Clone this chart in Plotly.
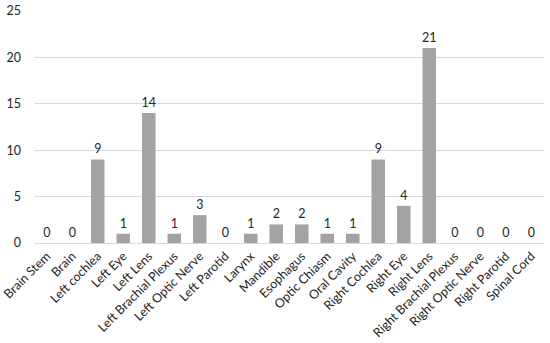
import plotly.graph_objects as go

categories = ["Brain Stem", "Brain", "Left cochlea", "Left Eye", "Left Lens",
              "Left Brachial Plexus", "Left Optic Nerve", "Left Parotid", "Larynx",
              "Mandible", "Esophagus", "Optic Chiasm", "Oral Cavity", "Right Cochlea",
              "Right Eye", "Right Lens", "Right Brachial Plexus", "Right Optic Nerve",
              "Right Parotid", "Spinal Cord"]
values = [0, 0, 9, 1, 14, 1, 3, 0, 1, 2, 2, 1, 1, 9, 4, 21, 0, 0, 0, 0]
y_ticks = [0, 5, 10, 15, 20, 25]

font_family = "Lato, 'Open Sans', sans-serif"
text_color = "#262626"

fig = go.Figure(go.Bar(
    x=categories, y=values,
    text=[str(v) for v in values], textposition="outside",
    textfont=dict(family=font_family, size=12.5, color=text_color),
    constraintext="none",
    cliponaxis=False,
    marker=dict(color="#a3a3a3", line=dict(width=0)),
    width=0.53,
))

fig.update_layout(
    width=550, height=343,
    margin=dict(l=34, r=6, t=11, b=100, autoexpand=False),
    paper_bgcolor="white", plot_bgcolor="white",
    showlegend=False,
    font=dict(family=font_family, size=12, color=text_color),
)
fig.update_xaxes(
    tickangle=-45, tickfont=dict(family=font_family, size=12.5, color=text_color),
    showgrid=False, showline=True, linecolor="#d9d9d9", linewidth=1,
    ticks="", automargin=False,
)
fig.update_yaxes(
    range=[0, 25], tickvals=y_ticks, showgrid=True, gridcolor="#d9d9d9",
    gridwidth=1, zeroline=False, showline=False, ticks="",
    ticklabelstandoff=12, automargin=False,
    tickfont=dict(family=font_family, size=12.5, color=text_color),
)

fig.write_html("out.html", config={"displayModeBar": False},
               post_script="document.body.style.margin='0';")
